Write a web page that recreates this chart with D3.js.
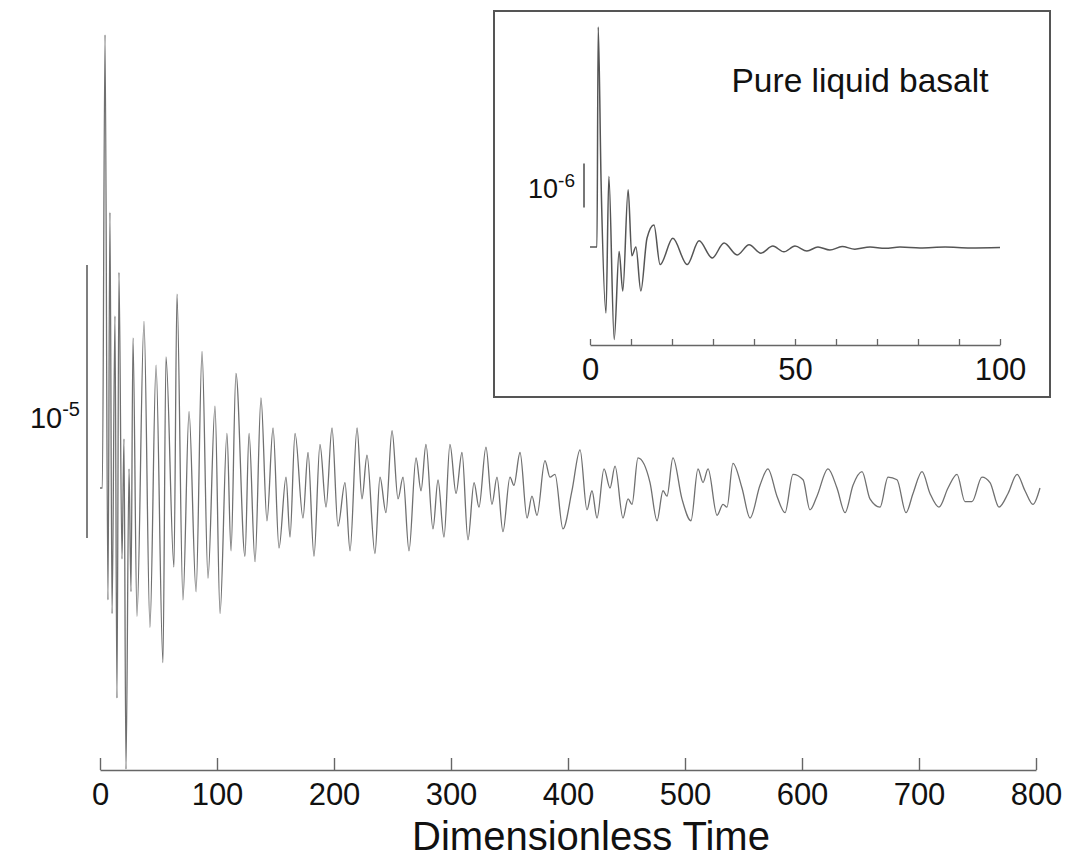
<!DOCTYPE html>
<html>
<head>
<meta charset="utf-8">
<script src="https://cdn.jsdelivr.net/npm/d3@7"></script>
<style>
  body { margin: 0; background: #fff; }
  svg { font-family: "Liberation Sans", Arial, sans-serif; }
</style>
</head>
<body>
<svg id="chart" width="1079" height="861"></svg>
<script>
// main run: time (dimensionless) and amplitude (units of 1e-6)
var mainT = [0,2,4.3,6.8,8.5,10.3,12.8,14.5,16.2,18.8,
  20.5,22.2,24.8,26.5,28.2,31.6,37.6,42.7,47.9,53.8,
  56.4,63.2,65.8,70.9,76.1,82.1,87.2,92.3,98.3,102.6,
  108.5,112.0,116.2,123.9,127.4,132.5,137.6,142.7,147.9,153.0,
  159.0,162.4,166.7,173.5,177.8,182.9,188.0,193.2,198.3,203.4,
  209.4,213.7,219.7,223.9,228.2,235.0,239.3,244.4,249.6,254.7,
  259.0,264.1,270.1,274.4,278.6,284.6,288.9,294.0,299.1,304.3,
  309.4,314.5,319.7,323.9,329.9,335.0,339.3,344.4,350.4,353.8,
  359.0,365.0,369.2,373.5,380.3,384.6,388.9,395.7,403.4,410.3,
  416.2,420.5,424.8,430.8,435.9,440.2,447.0,451.3,454.7,459.8,
  470.1,476.1,481.2,484.6,489.7,497.4,505.1,511.1,515.4,519.7,
  527.4,532.5,535.9,541.0,548.7,555.6,564.1,570.9,578.6,585.5,
  592.3,600.9,606.8,612.8,622.2,629.9,636.8,643.6,651.3,658.1,
  666.7,673.5,681.2,688.9,694.9,702.6,709.4,717.1,724.8,732.5,
  739.3,745.3,753.8,760.7,768.4,776.1,783.8,790.6,797.4,803.4];
var mainV = [0,0,16.6,-4.1,10.1,-4.6,6.3,-7.7,7.9,-2.6,
  1.8,-10.3,0.7,-3.8,5.5,-4.7,6.1,-5.1,4.5,-6.4,
  4.8,-2.9,7.1,-4.1,2.8,-3.8,5.0,-3.3,3.0,-4.6,
  2.0,-2.3,4.2,-2.5,2.0,-2.7,3.3,-1.2,2.2,-2.2,
  0.4,-1.8,2.0,-1.1,1.3,-2.5,1.6,-0.7,2.2,-1.4,
  0.2,-2.3,2.2,-0.4,1.2,-2.4,0.4,-0.9,2.1,-0.4,
  0.4,-2.3,1.1,-0.1,1.6,-1.5,0.3,-1.8,1.6,-0.2,
  1.3,-1.9,0.2,-0.7,1.5,-0.6,0.4,-1.6,0.4,0.1,
  1.3,-1.1,-0.3,-1.0,1.0,0.4,0.5,-1.5,-0.1,1.4,
  -0.8,-0.1,-1.1,0.7,0.0,0.8,-1.1,-0.4,-0.6,1.1,
  0.2,-1.2,-0.1,-0.3,1.1,-0.4,-1.2,0.7,0.2,0.7,
  -1.0,-0.6,-0.7,0.9,0.0,-1.1,0.1,0.7,-0.3,-0.9,
  0.5,0.3,-0.8,-0.3,0.7,0.0,-0.9,0.1,0.6,-0.4,
  -0.7,0.4,0.3,-0.9,-0.2,0.6,-0.2,-0.7,0.0,0.5,
  -0.5,-0.5,0.4,0.2,-0.7,-0.2,0.5,-0.1,-0.6,0.0];

// inset: pure liquid basalt
var insetT = [0,1.7,2.0,2.7,3.9,4.6,5.9,7.1,8.0,9.3,
  10.2,11.2,12.4,13.9,15.6,17.1,20.2,23.7,26.6,29.8,
  32.7,35.9,38.8,41.7,44.6,47.3,50.0,52.9,55.6,58.5,
  61.5,64.6,68.3,72.0,75.6,80.5,86.6,92.7,100];
var insetV = [0,0,5.0,1.5,-1.5,1.6,-2.1,-0.1,-1.0,1.3,
  -0.2,0.0,-1.0,0.2,0.5,-0.4,0.2,-0.4,0.14,-0.25,
  0.09,-0.18,0.05,-0.14,0.02,-0.11,0.02,-0.09,0.0,-0.07,
  0.01,-0.05,0,-0.03,0,-0.02,0,-0.02,-0.01];

var mainTicks = [0,100,200,300,400,500,600,700,800];
var insetTicks = [0,10,20,30,40,50,60,70,80,90,100];
var insetLabels = [0,50,100];
var mainBar = [-1.83, 8.17];   // 10^-5 scale bar
var insetBar = [0.9, 1.9];     // 10^-6 scale bar

var svg = d3.select('#chart');

// ---------- main plot ----------
var x = d3.scaleLinear().domain([0, 800]).range([100, 1036]);
var y = d3.scaleLinear().domain([0, 10]).range([488, 215]);

var mainData = mainT.map((t, i) => [t, mainV[i]]);
var line = d3.line()
  .x(d => x(d[0]))
  .y(d => y(d[1]))
  .curve(d3.curveMonotoneX);

svg.append('path')
  .datum(mainData)
  .attr('d', line)
  .attr('fill', 'none')
  .attr('stroke', '#707070')
  .attr('stroke-width', 1.3);

var xAxis = svg.append('g')
  .attr('transform', 'translate(0,770)')
  .call(d3.axisBottom(x).tickValues(mainTicks).tickSizeInner(-12).tickSizeOuter(0).tickPadding(13));
xAxis.select('.domain').attr('stroke', '#666').attr('stroke-width', 1.6);
xAxis.selectAll('.tick line').attr('stroke', '#666').attr('stroke-width', 1.4);
xAxis.selectAll('.tick text').attr('font-size', 31).attr('fill', '#111')
  .attr('font-family', '"Liberation Sans", Arial, sans-serif');

svg.append('text')
  .attr('x', 591).attr('y', 850)
  .attr('text-anchor', 'middle')
  .attr('font-size', 40).attr('fill', '#111')
  .text('Dimensionless Time');

svg.append('line')
  .attr('x1', 87).attr('x2', 87)
  .attr('y1', y(mainBar[0])).attr('y2', y(mainBar[1]))
  .attr('stroke', '#555').attr('stroke-width', 1.5);

var lab5 = svg.append('text')
  .attr('x', 80).attr('y', 428)
  .attr('text-anchor', 'end')
  .attr('font-size', 29).attr('fill', '#111');
lab5.append('tspan').text('10');
lab5.append('tspan').attr('font-size', 20).attr('dy', -12).text('-5');

// ---------- inset ----------
svg.append('rect')
  .attr('x', 494).attr('y', 11).attr('width', 556).attr('height', 386)
  .attr('fill', 'none').attr('stroke', '#555').attr('stroke-width', 2);

var xi = d3.scaleLinear().domain([0, 100]).range([590, 1000]);
var yi = d3.scaleLinear().domain([0, 1]).range([247, 203]);

var insetData = insetT.map((t, i) => [t, insetV[i]]);
var lineI = d3.line()
  .x(d => xi(d[0]))
  .y(d => yi(d[1]))
  .curve(d3.curveMonotoneX);

svg.append('path')
  .datum(insetData)
  .attr('d', lineI)
  .attr('fill', 'none')
  .attr('stroke', '#555')
  .attr('stroke-width', 1.5);

var iAxis = svg.append('g')
  .attr('transform', 'translate(0,345)')
  .call(d3.axisBottom(xi).tickValues(insetTicks).tickSizeInner(-6).tickSizeOuter(0).tickPadding(13)
    .tickFormat(d => insetLabels.includes(d) ? d : ''));
iAxis.select('.domain').attr('stroke', '#666').attr('stroke-width', 1.6);
iAxis.selectAll('.tick line').attr('stroke', '#666').attr('stroke-width', 1.3);
iAxis.selectAll('.tick text').attr('font-size', 31).attr('fill', '#111')
  .attr('font-family', '"Liberation Sans", Arial, sans-serif');

svg.append('line')
  .attr('x1', 584).attr('x2', 584)
  .attr('y1', yi(insetBar[0])).attr('y2', yi(insetBar[1]))
  .attr('stroke', '#777').attr('stroke-width', 2);

var lab6 = svg.append('text')
  .attr('x', 575).attr('y', 198)
  .attr('text-anchor', 'end')
  .attr('font-size', 27).attr('fill', '#111');
lab6.append('tspan').text('10');
lab6.append('tspan').attr('font-size', 19).attr('dy', -11).text('-6');

svg.append('text')
  .attr('x', 860).attr('y', 92)
  .attr('text-anchor', 'middle')
  .attr('font-size', 33.5).attr('fill', '#111')
  .text('Pure liquid basalt');
</script>
</body>
</html>
